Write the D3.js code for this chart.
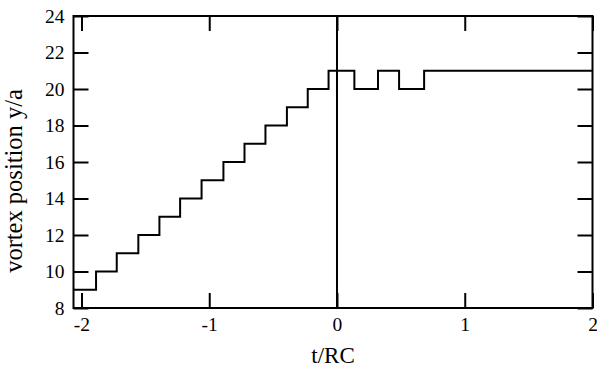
<!DOCTYPE html>
<html>
<head>
<meta charset="utf-8">
<script src="https://cdn.jsdelivr.net/npm/d3@7"></script>
<style>
  html, body { margin: 0; padding: 0; background: #fff; }
  text { font-family: "Liberation Serif", "Times New Roman", serif; fill: #000; }
</style>
</head>
<body>
<svg id="chart" width="597" height="371"></svg>
<script>
// Times at which the vortex hops, and the position held after each time
const stepTimes = [-2.0625, -1.886, -1.724, -1.555, -1.390, -1.228, -1.060, -0.889, -0.724,
                   -0.560, -0.392, -0.229, -0.066, 0.136, 0.321, 0.486, 0.682];
const positions = [9, 10, 11, 12, 13, 14, 15, 16, 17, 18, 19, 20, 21, 20, 21, 20, 21];
const endTime = 2;
const xTicks = [-2, -1, 0, 1, 2];
const yTicks = [8, 10, 12, 14, 16, 18, 20, 22, 24];
const markerTime = [0];

(function () {
const svg = d3.select("#chart");
const pL = 73.5, pR = 592.5, pT = 16, pB = 308;

const x = d3.scaleLinear().domain([-2.0625, 2]).range([pL, pR]);
const y = d3.scaleLinear().domain([8, 24]).range([pB, pT]);

const data = stepTimes.map((t, i) => ({t, v: positions[i]}));
data.push({t: endTime, v: positions[positions.length - 1]});

const tickLen = 15;
const fmt = d => String(d);

const gB = svg.append("g").attr("transform", `translate(0,${pB})`)
  .call(d3.axisBottom(x).tickValues(xTicks).tickFormat(fmt).tickSizeInner(-tickLen).tickSizeOuter(0).tickPadding(9));
const gT = svg.append("g").attr("transform", `translate(0,${pT})`)
  .call(d3.axisTop(x).tickValues(xTicks).tickFormat("").tickSizeInner(-tickLen).tickSizeOuter(0));
const gL = svg.append("g").attr("transform", `translate(${pL},0)`)
  .call(d3.axisLeft(y).tickValues(yTicks).tickFormat(fmt).tickSizeInner(-tickLen).tickSizeOuter(0).tickPadding(9));
const gR = svg.append("g").attr("transform", `translate(${pR},0)`)
  .call(d3.axisRight(y).tickValues(yTicks).tickFormat("").tickSizeInner(-tickLen).tickSizeOuter(0));

[gB, gT, gL, gR].forEach(g => {
  g.select(".domain").remove();
  g.selectAll("line").attr("stroke", "#000").attr("stroke-width", 2);
  g.selectAll("text").style("font-family", '"Liberation Serif", serif').style("font-size", "19.5px").attr("fill", "#000");
});

svg.append("rect")
  .attr("x", pL).attr("y", pT)
  .attr("width", pR - pL).attr("height", pB - pT)
  .attr("fill", "none").attr("stroke", "#000").attr("stroke-width", 2);

svg.selectAll(".marker").data(markerTime).enter().append("line")
  .attr("class", "marker")
  .attr("x1", d => x(d)).attr("x2", d => x(d))
  .attr("y1", pT).attr("y2", pB)
  .attr("stroke", "#000").attr("stroke-width", 2);

const line = d3.line().x(d => x(d.t)).y(d => y(d.v)).curve(d3.curveStepAfter);
svg.append("path").datum(data)
  .attr("d", line).attr("fill", "none")
  .attr("stroke", "#000").attr("stroke-width", 2);

svg.append("text")
  .attr("x", 333).attr("y", 363)
  .attr("text-anchor", "middle")
  .style("font-size", "23px")
  .text("t/RC");

svg.append("text")
  .attr("transform", "translate(22,181) rotate(-90)")
  .attr("text-anchor", "middle")
  .style("font-size", "24.5px")
  .text("vortex position y/a");
})();
</script>
</body>
</html>
